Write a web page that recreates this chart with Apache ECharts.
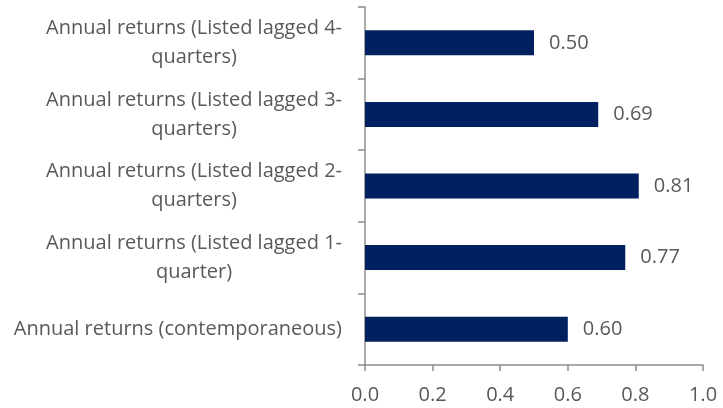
<!DOCTYPE html>
<html>
<head>
<meta charset="utf-8">
<script src="https://cdn.jsdelivr.net/npm/echarts@6/dist/echarts.min.js"></script>
<style>
  html, body { margin: 0; padding: 0; background: #fff; }
  #chart { width: 723px; height: 408px; }
</style>
</head>
<body>
<div id="chart"></div>
<script>
// Category labels (top to bottom); "\n" marks the wrap point
const categories = [
  'Annual returns (Listed lagged 4-\nquarters)',
  'Annual returns (Listed lagged 3-\nquarters)',
  'Annual returns (Listed lagged 2-\nquarters)',
  'Annual returns (Listed lagged 1-\nquarter)',
  'Annual returns (contemporaneous)'
];
const correlations = [0.50, 0.69, 0.81, 0.77, 0.60];
const xTicks = [0.0, 0.2, 0.4, 0.6, 0.8, 1.0];

const FONT = '"Open Sans", "Noto Sans", sans-serif';
const TEXT = '#595959';
const AXIS = '#8c8c8c';
const SIZE = 20;

const chart = echarts.init(document.getElementById('chart'), null, { renderer: 'canvas' });

chart.setOption({
  animation: false,
  grid: { left: 365, right: 20, top: 7, bottom: 43, containLabel: false },
  xAxis: {
    type: 'value',
    min: xTicks[0],
    max: xTicks[xTicks.length - 1],
    interval: 0.2,
    splitLine: { show: false },
    axisLine: { show: true, lineStyle: { color: AXIS, width: 1.5 } },
    axisTick: { show: true, length: 6, lineStyle: { color: AXIS, width: 1.5 } },
    axisLabel: {
      margin: 20,
      color: TEXT,
      fontFamily: FONT,
      fontSize: SIZE,
      formatter: v => v.toFixed(1)
    }
  },
  yAxis: {
    type: 'category',
    inverse: true,
    data: categories,
    axisLine: { show: true, lineStyle: { color: AXIS, width: 1.5 } },
    axisTick: { show: true, length: 7, lineStyle: { color: AXIS, width: 1.5 } },
    axisLabel: {
      margin: 23,
      color: TEXT,
      fontFamily: FONT,
      fontSize: SIZE,
      lineHeight: 29,
      formatter: v => v.split('\n').map(s => '{c|' + s + '}').join('\n'),
      rich: {
        c: { align: 'center', color: TEXT, fontFamily: FONT, fontSize: SIZE, lineHeight: 29 }
      }
    }
  },
  series: [{
    type: 'bar',
    data: correlations,
    barWidth: 25,
    itemStyle: { color: '#002060' },
    label: {
      show: true,
      position: 'right',
      distance: 15,
      color: TEXT,
      fontFamily: FONT,
      fontSize: SIZE,
      formatter: p => p.value.toFixed(2)
    }
  }]
});
</script>
</body>
</html>
